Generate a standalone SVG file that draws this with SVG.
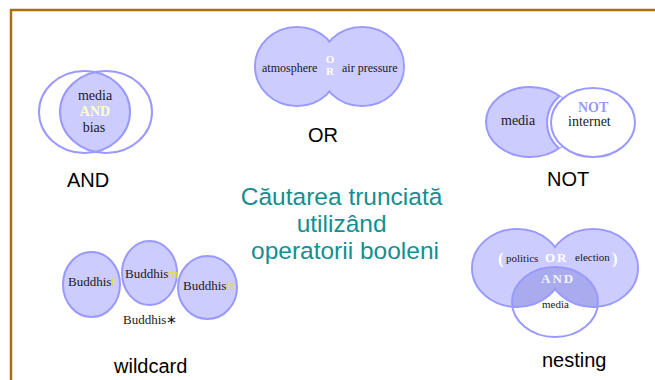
<svg xmlns="http://www.w3.org/2000/svg" width="655" height="380" viewBox="0 0 655 380">
<style>
.st{stroke:#9999ff;stroke-width:2}
.fl{fill:#ccccff}
.tm{font-family:"Liberation Serif",serif;fill:#1a1a1a}
.lb{font-family:"Liberation Sans",Arial,sans-serif;font-size:20px;fill:#000}
.yl{fill:#e4e400}
</style>
<defs>
<clipPath id="andL"><ellipse cx="84.5" cy="112" rx="45.5" ry="41"/></clipPath>
<clipPath id="notL"><ellipse cx="530" cy="122" rx="44" ry="35"/></clipPath>
<clipPath id="nestB"><ellipse cx="555" cy="302" rx="43" ry="35"/></clipPath>
</defs>
<rect width="655" height="380" fill="#fff"/>
<g id="frame" fill="none" stroke="#a8700c" stroke-width="2.5">
<path d="M11 380 V10 H655"/>
</g>
<g id="connectors"></g>

<g id="and-node">
<ellipse cx="106" cy="112" rx="46" ry="41" class="fl" clip-path="url(#andL)"/>
<ellipse cx="84.5" cy="112" rx="45.5" ry="41" fill="none" class="st"/>
<ellipse cx="106" cy="112" rx="46" ry="41" fill="none" class="st"/>
<text class="tm" x="95" y="100" font-size="14" text-anchor="middle">media</text>
<text x="95" y="116" font-family="Liberation Serif,serif" font-size="14" font-weight="bold" fill="#ffffcc" text-anchor="middle">AND</text>
<text class="tm" x="94" y="132" font-size="14" text-anchor="middle">bias</text>
<text class="lb" x="67" y="187">AND</text>
</g>

<g id="or-node">
<ellipse cx="297" cy="66.5" rx="42" ry="39.5" class="fl st"/>
<ellipse cx="362" cy="66.5" rx="42" ry="39.5" class="fl st"/>
<ellipse cx="297" cy="66.5" rx="41" ry="38.5" class="fl"/>
<ellipse cx="362" cy="66.5" rx="41" ry="38.5" class="fl"/>
<text class="tm" x="262" y="72" font-size="12">atmosphere</text>
<text class="tm" x="342" y="72" font-size="12">air pressure</text>
<text x="330" y="63" font-family="Liberation Serif,serif" font-size="11" font-weight="bold" fill="#fff" text-anchor="middle">O</text>
<text x="330" y="75" font-family="Liberation Serif,serif" font-size="11" font-weight="bold" fill="#fff" text-anchor="middle">R</text>
<text class="lb" x="308" y="142">OR</text>
</g>

<g id="not-node">
<ellipse cx="530" cy="122" rx="44" ry="35" class="fl st"/>
<ellipse cx="593" cy="122.5" rx="46" ry="38.5" fill="#fff" class="st" clip-path="url(#notL)"/>
<ellipse cx="593" cy="122.5" rx="42" ry="34.5" fill="#fff" class="st"/>
<text class="tm" x="501" y="125" font-size="14">media</text>
<text x="578" y="112" font-family="Liberation Serif,serif" font-size="14" font-weight="bold" fill="#9999ff">NOT</text>
<text class="tm" x="568" y="126" font-size="14">internet</text>
<text class="lb" x="547" y="186">NOT</text>
</g>

<g id="title">
<text font-family="Liberation Sans,Arial,sans-serif" font-size="24.5" fill="#148f8f" text-anchor="middle">
<tspan x="345" y="205">Căutarea trunciată</tspan>
<tspan x="345" y="232">utilizând</tspan>
<tspan x="345" y="259">operatorii booleni</tspan>
</text>
</g>

<g id="wildcard-node">
<ellipse cx="91.5" cy="284.5" rx="28.5" ry="32.5" class="fl st"/>
<ellipse cx="149.5" cy="273" rx="27.5" ry="32" class="fl st"/>
<ellipse cx="207.5" cy="287.5" rx="29.5" ry="31.5" class="fl st"/>
<text class="tm" x="68" y="286" font-size="13">Buddhis<tspan class="yl">t</tspan></text>
<text class="tm" x="125" y="278" font-size="13">Buddhis<tspan class="yl">m</tspan></text>
<text class="tm" x="183" y="290" font-size="13">Buddhis<tspan class="yl">ts</tspan></text>
<text class="tm" x="123" y="324" font-size="13">Buddhis∗</text>
<text class="lb" x="114" y="373">wildcard</text>
</g>

<g id="nesting-node">
<ellipse cx="517" cy="268" rx="45" ry="39" class="fl st"/>
<ellipse cx="593" cy="268" rx="45" ry="39" class="fl st"/>
<ellipse cx="517" cy="268" rx="44" ry="38" class="fl"/>
<ellipse cx="593" cy="268" rx="44" ry="38" class="fl"/>
<ellipse cx="555" cy="302" rx="43" ry="35" fill="#fff"/>
<g clip-path="url(#nestB)">
<ellipse cx="517" cy="268" rx="45" ry="39" fill="#aaaaee" class="st"/>
<ellipse cx="593" cy="268" rx="45" ry="39" fill="#aaaaee" class="st"/>
<ellipse cx="517" cy="268" rx="44" ry="38" fill="#aaaaee"/>
<ellipse cx="593" cy="268" rx="44" ry="38" fill="#aaaaee"/>
</g>
<ellipse cx="555" cy="302" rx="43" ry="35" fill="none" class="st"/>
<text x="498" y="264" font-family="Liberation Serif,serif" font-size="17" font-weight="bold" fill="#fff">(</text>
<text class="tm" x="506" y="262" font-size="11">politics</text>
<text x="545" y="262" font-family="Liberation Serif,serif" font-size="13" font-weight="bold" fill="#fff" letter-spacing="2">OR</text>
<text class="tm" x="575" y="261" font-size="11">election</text>
<text x="612" y="264" font-family="Liberation Serif,serif" font-size="17" font-weight="bold" fill="#fff">)</text>
<text x="541" y="283" font-family="Liberation Serif,serif" font-size="13" font-weight="bold" fill="#f4f4ff" letter-spacing="2">AND</text>
<text class="tm" x="542" y="308" font-size="11">media</text>
<text class="lb" x="542" y="367">nesting</text>
</g>
</svg>
